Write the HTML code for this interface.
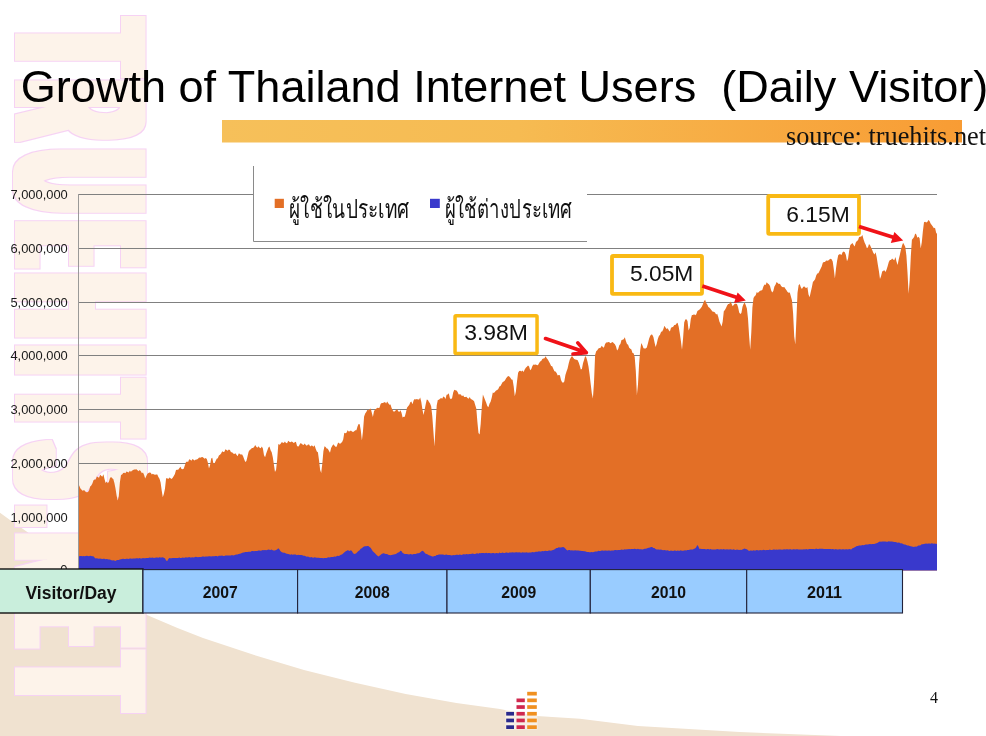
<!DOCTYPE html>
<html><head><meta charset="utf-8"><title>Growth of Thailand Internet Users</title>
<style>html,body{margin:0;padding:0;background:#fff;}body{width:986px;height:736px;position:relative;overflow:hidden;}</style></head>
<body>
<svg width="986" height="736" viewBox="0 0 986 736" style="position:absolute;left:0;top:0">
<defs><linearGradient id="bar" x1="0" x2="1" y1="0" y2="0"><stop offset="0" stop-color="#F6C05A"/><stop offset="0.4" stop-color="#F6BB52"/><stop offset="1" stop-color="#F89C34"/></linearGradient></defs>
<path d="M0,736 L0,512.8 L10,520 L147,615 L177.5,628 L203,638 L253.5,654.8 L304,670 L355,682.7 L405.7,693.9 L456.4,703 L500,709 L536.7,716 L580,718.7 L638,726 L739.6,732 L841,736 Z" fill="#F0E2D0"/>
<filter id="wm" filterUnits="userSpaceOnUse" x="0" y="0" width="170" height="736" color-interpolation-filters="sRGB"><feMorphology in="SourceAlpha" operator="dilate" radius="1.5 7.5" result="fat"/><feMorphology in="fat" operator="dilate" radius="1" result="fatter"/><feFlood flood-color="#F6D2F4"/><feComposite in2="fatter" operator="in" result="ol"/><feFlood flood-color="#FDF3EA"/><feComposite in2="fat" operator="in" result="fl"/><feMerge><feMergeNode in="ol"/><feMergeNode in="fl"/></feMerge></filter>
<g filter="url(#wm)"><text transform="translate(16.5,0) rotate(90)" y="0" font-family="Liberation Sans, sans-serif" font-weight="bold" font-size="184.6" fill="#FDF3EA"><tspan x="22.9" textLength="48.1" lengthAdjust="spacingAndGlyphs">T</tspan><tspan x="83.7" textLength="51.8" lengthAdjust="spacingAndGlyphs">R</tspan><tspan x="152.8" textLength="56.7" lengthAdjust="spacingAndGlyphs">U</tspan><tspan x="225.5" textLength="37.2" lengthAdjust="spacingAndGlyphs">E</tspan><tspan x="276.0" textLength="59.0" lengthAdjust="spacingAndGlyphs">H</tspan><tspan x="347.5" textLength="25.1" lengthAdjust="spacingAndGlyphs">I</tspan><tspan x="385.0" textLength="46.3" lengthAdjust="spacingAndGlyphs">T</tspan><tspan x="446.0" textLength="47.9" lengthAdjust="spacingAndGlyphs">S</tspan><tspan x="510.9" textLength="10.6" lengthAdjust="spacingAndGlyphs">.</tspan><tspan x="536.2" textLength="57.7" lengthAdjust="spacingAndGlyphs">N</tspan><tspan x="606.9" textLength="35.7" lengthAdjust="spacingAndGlyphs">E</tspan><tspan x="656.6" textLength="49.4" lengthAdjust="spacingAndGlyphs">T</tspan></text></g>
<rect x="222" y="120" width="740" height="22.5" fill="url(#bar)"/>
<line x1="79" y1="194.5" x2="937" y2="194.5" stroke="#808080" stroke-width="1"/>
<line x1="79" y1="248.5" x2="937" y2="248.5" stroke="#808080" stroke-width="1"/>
<line x1="79" y1="302.5" x2="937" y2="302.5" stroke="#808080" stroke-width="1"/>
<line x1="79" y1="355.5" x2="937" y2="355.5" stroke="#808080" stroke-width="1"/>
<line x1="79" y1="409.5" x2="937" y2="409.5" stroke="#808080" stroke-width="1"/>
<line x1="79" y1="463.5" x2="937" y2="463.5" stroke="#808080" stroke-width="1"/>
<line x1="79" y1="517.5" x2="937" y2="517.5" stroke="#808080" stroke-width="1"/>
<line x1="78.5" y1="194" x2="78.5" y2="570" stroke="#8e8e8e" stroke-width="0.9"/>
<path d="M79,570.5 L79,485.6 L79.2,485.6 L80.3,488.3 L81.4,489.4 L82.5,490.7 L83.6,490.2 L84.7,490.4 L85.8,492.0 L86.9,492.2 L88.0,492.1 L89.1,490.2 L90.2,486.5 L91.3,485.4 L92.4,483.6 L93.5,480.2 L94.6,479.4 L95.7,479.4 L96.8,476.6 L97.9,477.0 L99.0,477.8 L100.1,474.7 L101.2,475.8 L102.3,476.7 L103.4,474.2 L104.5,478.9 L105.6,482.9 L106.7,481.5 L107.8,483.2 L108.9,481.7 L110.0,478.0 L111.1,476.9 L112.2,478.3 L113.3,479.0 L114.4,483.1 L115.5,488.5 L116.6,495.5 L117.7,500.4 L118.8,496.0 L119.9,482.3 L121.0,475.0 L122.1,474.6 L123.2,473.0 L124.3,472.8 L125.4,473.3 L126.5,471.4 L127.6,471.9 L128.7,472.6 L129.8,470.7 L130.9,471.7 L132.0,470.8 L133.1,469.9 L134.2,469.5 L135.3,469.6 L136.4,469.3 L137.5,470.3 L138.6,471.3 L139.7,470.1 L140.8,471.3 L141.9,473.3 L143.0,472.4 L144.1,475.1 L145.2,478.6 L146.3,476.0 L147.4,473.8 L148.5,472.9 L149.6,472.4 L150.7,472.7 L151.8,474.6 L152.9,473.7 L154.0,474.4 L155.1,474.8 L156.2,474.6 L157.3,474.5 L158.4,477.1 L159.5,478.8 L160.6,482.4 L161.7,490.5 L162.8,497.2 L163.9,493.8 L165.0,488.6 L166.1,478.3 L167.2,478.3 L168.3,478.9 L169.4,477.4 L170.5,478.3 L171.6,479.1 L172.7,477.7 L173.8,476.0 L174.9,474.1 L176.0,470.0 L177.1,469.7 L178.2,469.8 L179.3,468.2 L180.4,466.8 L181.5,469.0 L182.6,469.2 L183.7,468.7 L184.8,465.5 L185.9,462.3 L187.0,461.4 L188.1,462.0 L189.2,459.3 L190.3,459.7 L191.4,460.8 L192.5,459.0 L193.6,459.8 L194.7,460.5 L195.8,459.4 L196.9,459.6 L198.0,458.7 L199.1,457.6 L200.2,457.8 L201.3,457.3 L202.4,456.9 L203.5,457.7 L204.6,458.8 L205.7,458.1 L206.8,459.1 L207.9,462.8 L209.0,468.6 L210.1,464.7 L211.2,458.6 L212.3,457.7 L213.4,463.4 L214.5,463.5 L215.6,461.0 L216.7,458.7 L217.8,458.2 L218.9,455.5 L220.0,454.7 L221.1,453.4 L222.2,451.3 L223.3,452.0 L224.4,451.8 L225.5,449.2 L226.6,449.9 L227.7,450.8 L228.8,449.6 L229.9,450.0 L231.0,452.3 L232.1,452.3 L233.2,453.5 L234.3,454.1 L235.4,453.2 L236.5,454.7 L237.6,456.3 L238.7,453.6 L239.8,453.8 L240.9,454.7 L242.0,454.3 L243.1,456.2 L244.2,459.3 L245.3,461.9 L246.4,460.9 L247.5,456.5 L248.6,451.8 L249.7,450.1 L250.8,449.2 L251.9,448.0 L253.0,448.1 L254.1,447.0 L255.2,444.9 L256.3,446.8 L257.4,447.8 L258.5,446.3 L259.6,447.7 L260.7,448.2 L261.8,446.4 L262.9,448.5 L264.0,455.2 L265.1,457.3 L266.2,453.5 L267.3,450.4 L268.4,447.6 L269.5,446.6 L270.6,450.3 L271.7,452.2 L272.8,457.2 L273.9,464.6 L275.0,472.1 L276.1,469.8 L277.2,459.6 L278.3,444.1 L279.4,444.8 L280.5,443.9 L281.6,442.3 L282.7,442.6 L283.8,443.1 L284.9,441.5 L286.0,442.9 L287.1,443.2 L288.2,440.8 L289.3,441.8 L290.4,442.3 L291.5,441.6 L292.6,442.0 L293.7,443.0 L294.8,442.2 L295.9,441.8 L297.0,445.7 L298.1,446.8 L299.2,445.5 L300.3,443.3 L301.4,443.4 L302.5,444.6 L303.6,444.9 L304.7,443.6 L305.8,444.9 L306.9,445.7 L308.0,444.6 L309.1,444.6 L310.2,446.5 L311.3,445.5 L312.4,445.7 L313.5,446.8 L314.6,445.2 L315.7,448.7 L316.8,451.4 L317.9,452.3 L319.0,460.0 L320.1,469.8 L321.2,472.9 L322.3,463.8 L323.4,451.2 L324.5,446.2 L325.6,447.1 L326.7,448.5 L327.8,448.8 L328.9,450.8 L330.0,452.8 L331.1,447.9 L332.2,445.9 L333.3,444.3 L334.4,445.4 L335.5,446.7 L336.6,446.7 L337.7,443.4 L338.8,442.4 L339.9,444.1 L341.0,443.0 L342.1,442.0 L343.2,439.5 L344.3,432.8 L345.4,433.2 L346.5,432.8 L347.6,430.3 L348.7,431.4 L349.8,431.2 L350.9,430.5 L352.0,431.4 L353.1,432.1 L354.2,431.2 L355.3,430.2 L356.4,430.2 L357.5,426.5 L358.6,423.9 L359.7,424.3 L360.8,430.6 L361.9,440.4 L363.0,431.1 L364.1,416.4 L365.2,413.4 L366.3,411.9 L367.4,409.7 L368.5,410.2 L369.6,409.2 L370.7,408.6 L371.8,412.7 L372.9,416.9 L374.0,411.2 L375.1,409.4 L376.2,408.8 L377.3,407.8 L378.4,407.9 L379.5,407.7 L380.6,404.1 L381.7,402.9 L382.8,402.9 L383.9,402.6 L385.0,402.1 L386.1,403.6 L387.2,401.5 L388.3,403.2 L389.4,404.7 L390.5,404.5 L391.6,408.1 L392.7,410.2 L393.8,411.8 L394.9,411.2 L396.0,409.9 L397.1,408.9 L398.2,411.2 L399.3,412.0 L400.4,410.2 L401.5,412.7 L402.6,417.4 L403.7,416.8 L404.8,416.8 L405.9,412.4 L407.0,407.8 L408.1,406.3 L409.2,405.1 L410.3,402.3 L411.4,401.5 L412.5,404.2 L413.6,400.4 L414.7,399.0 L415.8,399.4 L416.9,398.9 L418.0,399.5 L419.1,399.4 L420.2,397.5 L421.3,402.0 L422.4,409.2 L423.5,415.0 L424.6,410.1 L425.7,404.2 L426.8,399.5 L427.9,400.0 L429.0,402.0 L430.1,403.5 L431.2,406.4 L432.3,416.2 L433.4,431.6 L434.5,446.5 L435.6,424.6 L436.7,405.4 L437.8,399.9 L438.9,399.8 L440.0,398.8 L441.1,397.9 L442.2,398.8 L443.3,396.6 L444.4,396.9 L445.5,399.1 L446.6,394.8 L447.7,394.5 L448.8,393.2 L449.9,398.3 L451.0,399.2 L452.1,398.0 L453.2,392.4 L454.3,389.7 L455.4,390.2 L456.5,390.4 L457.6,392.1 L458.7,394.6 L459.8,394.3 L460.9,394.5 L462.0,396.2 L463.1,395.2 L464.2,397.0 L465.3,397.1 L466.4,396.8 L467.5,398.0 L468.6,398.7 L469.7,396.9 L470.8,399.0 L471.9,399.6 L473.0,400.2 L474.1,401.3 L475.2,405.1 L476.3,408.4 L477.4,422.0 L478.5,433.1 L479.6,434.5 L480.7,423.7 L481.8,406.7 L482.9,394.5 L484.0,397.2 L485.1,400.1 L486.2,402.8 L487.3,405.9 L488.4,407.3 L489.5,403.7 L490.6,401.8 L491.7,397.8 L492.8,392.4 L493.9,393.0 L495.0,391.8 L496.1,390.5 L497.2,389.9 L498.3,388.9 L499.4,386.5 L500.5,386.0 L501.6,383.9 L502.7,381.9 L503.8,381.6 L504.9,380.4 L506.0,378.5 L507.1,376.9 L508.2,375.9 L509.3,376.5 L510.4,377.8 L511.5,379.4 L512.6,379.7 L513.7,386.5 L514.8,396.3 L515.9,391.6 L517.0,381.4 L518.1,372.7 L519.2,371.0 L520.3,370.7 L521.4,371.4 L522.5,370.6 L523.6,372.0 L524.7,369.6 L525.8,367.7 L526.9,366.8 L528.0,365.6 L529.1,366.6 L530.2,370.2 L531.3,369.0 L532.4,365.9 L533.5,364.5 L534.6,364.8 L535.7,364.5 L536.8,365.0 L537.9,365.2 L539.0,363.3 L540.1,361.4 L541.2,361.1 L542.3,359.0 L543.4,358.6 L544.5,358.3 L545.6,356.2 L546.7,358.2 L547.8,359.5 L548.9,361.5 L550.0,363.4 L551.1,366.1 L552.2,366.2 L553.3,368.8 L554.4,371.2 L555.5,371.4 L556.6,373.1 L557.7,375.5 L558.8,375.0 L559.9,375.2 L561.0,380.0 L562.1,382.2 L563.2,382.8 L564.3,381.6 L565.4,375.0 L566.5,371.6 L567.6,368.5 L568.7,363.4 L569.8,359.6 L570.9,357.6 L572.0,356.0 L573.1,357.5 L574.2,359.1 L575.3,359.4 L576.4,359.7 L577.5,359.9 L578.6,362.3 L579.7,365.6 L580.8,369.6 L581.9,369.1 L583.0,363.3 L584.1,359.8 L585.2,356.1 L586.3,357.5 L587.4,361.3 L588.5,366.4 L589.6,374.6 L590.7,384.0 L591.8,393.3 L592.9,398.4 L594.0,382.5 L595.1,355.1 L596.2,351.2 L597.3,350.3 L598.4,348.6 L599.5,348.1 L600.6,347.7 L601.7,345.7 L602.8,346.9 L603.9,347.8 L605.0,344.3 L606.1,342.5 L607.2,342.5 L608.3,342.0 L609.4,342.3 L610.5,343.2 L611.6,342.5 L612.7,342.0 L613.8,343.3 L614.9,344.3 L616.0,346.6 L617.1,350.6 L618.2,348.9 L619.3,345.3 L620.4,344.0 L621.5,340.1 L622.6,339.8 L623.7,339.3 L624.8,337.2 L625.9,341.0 L627.0,344.1 L628.1,344.8 L629.2,347.7 L630.3,348.7 L631.4,349.6 L632.5,352.9 L633.6,353.3 L634.7,356.9 L635.8,370.8 L636.9,395.1 L638.0,384.3 L639.1,363.7 L640.2,350.3 L641.3,343.1 L642.4,345.2 L643.5,348.2 L644.6,348.4 L645.7,348.6 L646.8,347.4 L647.9,343.5 L649.0,338.9 L650.1,336.1 L651.2,334.4 L652.3,334.8 L653.4,337.1 L654.5,342.2 L655.6,347.1 L656.7,343.7 L657.8,339.1 L658.9,336.0 L660.0,334.7 L661.1,331.7 L662.2,331.4 L663.3,329.3 L664.4,325.8 L665.5,327.6 L666.6,328.9 L667.7,328.3 L668.8,330.3 L669.9,331.5 L671.0,327.7 L672.1,327.3 L673.2,326.8 L674.3,324.9 L675.4,324.9 L676.5,323.4 L677.6,322.8 L678.7,326.7 L679.8,333.6 L680.9,341.1 L682.0,349.8 L683.1,338.1 L684.2,322.5 L685.3,319.5 L686.4,319.3 L687.5,321.0 L688.6,330.6 L689.7,327.8 L690.8,318.9 L691.9,314.9 L693.0,315.0 L694.1,314.2 L695.2,315.3 L696.3,314.2 L697.4,310.9 L698.5,310.2 L699.6,309.5 L700.7,308.3 L701.8,306.7 L702.9,304.3 L704.0,301.3 L705.1,299.8 L706.2,303.0 L707.3,304.4 L708.4,306.9 L709.5,307.7 L710.6,309.0 L711.7,310.5 L712.8,311.8 L713.9,311.7 L715.0,312.5 L716.1,314.4 L717.2,313.8 L718.3,316.9 L719.4,321.6 L720.5,324.1 L721.6,326.4 L722.7,321.5 L723.8,311.2 L724.9,309.9 L726.0,307.9 L727.1,305.6 L728.2,304.1 L729.3,303.9 L730.4,301.6 L731.5,303.4 L732.6,306.2 L733.7,305.0 L734.8,303.7 L735.9,303.7 L737.0,304.1 L738.1,307.2 L739.2,312.5 L740.3,314.0 L741.4,313.1 L742.5,306.8 L743.6,303.9 L744.7,302.6 L745.8,305.2 L746.9,308.5 L748.0,318.4 L749.1,335.7 L750.2,349.7 L751.3,332.5 L752.4,307.6 L753.5,298.0 L754.6,296.3 L755.7,295.2 L756.8,291.9 L757.9,292.9 L759.0,291.7 L760.1,290.7 L761.2,290.5 L762.3,289.9 L763.4,286.4 L764.5,284.5 L765.6,285.0 L766.7,282.2 L767.8,283.5 L768.9,284.3 L770.0,285.9 L771.1,290.3 L772.2,292.4 L773.3,291.1 L774.4,286.4 L775.5,284.7 L776.6,282.1 L777.7,282.9 L778.8,283.9 L779.9,283.8 L781.0,285.8 L782.1,287.0 L783.2,287.2 L784.3,287.1 L785.4,288.7 L786.5,290.3 L787.6,292.0 L788.7,292.7 L789.8,292.6 L790.9,296.5 L792.0,300.5 L793.1,313.2 L794.2,336.2 L795.3,344.4 L796.4,319.6 L797.5,293.0 L798.6,285.2 L799.7,284.0 L800.8,287.2 L801.9,288.9 L803.0,287.2 L804.1,286.3 L805.2,287.5 L806.3,288.1 L807.4,287.1 L808.5,294.5 L809.6,297.3 L810.7,292.2 L811.8,287.6 L812.9,281.9 L814.0,280.8 L815.1,279.2 L816.2,275.4 L817.3,273.5 L818.4,273.3 L819.5,271.0 L820.6,268.7 L821.7,266.6 L822.8,262.8 L823.9,262.1 L825.0,261.9 L826.1,260.6 L827.2,260.8 L828.3,260.5 L829.4,259.4 L830.5,258.8 L831.6,259.3 L832.7,261.6 L833.8,269.2 L834.9,278.5 L836.0,268.6 L837.1,260.8 L838.2,255.3 L839.3,254.3 L840.4,254.2 L841.5,254.9 L842.6,252.2 L843.7,251.6 L844.8,252.3 L845.9,254.9 L847.0,261.2 L848.1,258.5 L849.2,250.4 L850.3,244.9 L851.4,244.0 L852.5,243.0 L853.6,244.9 L854.7,246.6 L855.8,242.6 L856.9,240.9 L858.0,240.2 L859.1,236.9 L860.2,236.7 L861.3,236.5 L862.4,235.1 L863.5,239.2 L864.6,242.6 L865.7,244.8 L866.8,247.9 L867.9,247.6 L869.0,244.0 L870.1,245.3 L871.2,247.7 L872.3,250.3 L873.4,253.1 L874.5,254.4 L875.6,252.2 L876.7,257.2 L877.8,264.4 L878.9,271.0 L880.0,278.9 L881.1,276.1 L882.2,271.4 L883.3,270.7 L884.4,270.2 L885.5,271.9 L886.6,269.6 L887.7,266.1 L888.8,262.0 L889.9,260.1 L891.0,260.1 L892.1,258.6 L893.2,259.5 L894.3,260.3 L895.4,257.1 L896.5,261.6 L897.6,265.1 L898.7,259.5 L899.8,254.9 L900.9,250.0 L902.0,245.8 L903.1,242.8 L904.2,244.7 L905.3,246.9 L906.4,255.6 L907.5,272.6 L908.6,293.7 L909.7,280.1 L910.8,256.4 L911.9,239.8 L913.0,238.4 L914.1,237.0 L915.2,233.6 L916.3,234.6 L917.4,237.8 L918.5,236.7 L919.6,238.2 L920.7,248.5 L921.8,242.3 L922.9,230.9 L924.0,222.3 L925.1,221.8 L926.2,222.6 L927.3,222.0 L928.4,219.9 L929.5,221.1 L930.6,223.4 L931.7,224.9 L932.8,226.6 L933.9,228.2 L935.0,227.7 L936.1,232.5 L936.5,233.4 L937,233.4 L937,570.5 Z" fill="#E36F26"/>
<path d="M79,570.5 L79,556.3 L79.1,556.3 L80.2,556.0 L81.3,556.0 L82.4,556.3 L83.5,556.1 L84.6,556.3 L85.7,556.1 L86.8,555.8 L87.9,555.9 L89.0,556.2 L90.1,555.7 L91.2,556.1 L92.3,556.3 L93.4,556.3 L94.5,557.5 L95.6,558.5 L96.7,558.2 L97.8,558.6 L98.9,558.7 L100.0,558.5 L101.1,558.7 L102.2,559.1 L103.3,558.7 L104.4,558.8 L105.5,559.2 L106.6,559.1 L107.7,559.2 L108.8,559.6 L109.9,559.5 L111.0,560.1 L112.1,560.4 L113.2,560.2 L114.3,560.6 L115.4,561.0 L116.5,560.3 L117.6,560.0 L118.7,560.1 L119.8,559.5 L120.9,559.3 L122.0,559.1 L123.1,558.8 L124.2,559.0 L125.3,559.0 L126.4,558.7 L127.5,558.8 L128.6,559.1 L129.7,558.6 L130.8,558.6 L131.9,558.7 L133.0,558.4 L134.1,558.5 L135.2,558.6 L136.3,558.3 L137.4,558.3 L138.5,558.6 L139.6,558.1 L140.7,558.4 L141.8,558.5 L142.9,558.1 L144.0,558.2 L145.1,558.2 L146.2,557.9 L147.3,557.9 L148.4,558.1 L149.5,557.6 L150.6,557.8 L151.7,557.8 L152.8,557.5 L153.9,557.9 L155.0,557.7 L156.1,557.5 L157.2,557.6 L158.3,557.7 L159.4,557.2 L160.5,557.4 L161.6,557.4 L162.7,557.3 L163.8,557.8 L164.9,558.2 L166.0,560.3 L167.1,561.2 L168.2,559.2 L169.3,557.9 L170.4,558.3 L171.5,558.3 L172.6,557.9 L173.7,558.1 L174.8,558.0 L175.9,557.9 L177.0,558.0 L178.1,558.1 L179.2,557.6 L180.3,557.9 L181.4,558.0 L182.5,557.6 L183.6,557.8 L184.7,557.8 L185.8,557.3 L186.9,557.5 L188.0,557.5 L189.1,557.1 L190.2,557.5 L191.3,557.6 L192.4,557.3 L193.5,557.4 L194.6,557.3 L195.7,556.8 L196.8,557.0 L197.9,557.3 L199.0,556.9 L200.1,556.9 L201.2,557.0 L202.3,556.5 L203.4,556.6 L204.5,556.7 L205.6,556.6 L206.7,556.6 L207.8,556.5 L208.9,556.3 L210.0,556.2 L211.1,556.4 L212.2,556.2 L213.3,556.3 L214.4,556.3 L215.5,555.9 L216.6,556.1 L217.7,556.4 L218.8,555.8 L219.9,555.7 L221.0,555.8 L222.1,555.5 L223.2,555.9 L224.3,555.9 L225.4,555.6 L226.5,555.5 L227.6,555.6 L228.7,555.4 L229.8,555.6 L230.9,555.5 L232.0,555.0 L233.1,555.4 L234.2,555.3 L235.3,554.8 L236.4,554.4 L237.5,554.5 L238.6,553.9 L239.7,553.7 L240.8,553.4 L241.9,552.9 L243.0,552.5 L244.1,552.4 L245.2,551.9 L246.3,552.1 L247.4,551.9 L248.5,551.7 L249.6,551.7 L250.7,551.8 L251.8,551.1 L252.9,551.1 L254.0,551.2 L255.1,551.0 L256.2,551.1 L257.3,551.0 L258.4,550.5 L259.5,550.4 L260.6,550.8 L261.7,550.4 L262.8,550.1 L263.9,550.3 L265.0,550.1 L266.1,550.2 L267.2,550.1 L268.3,549.6 L269.4,549.8 L270.5,549.9 L271.6,549.5 L272.7,550.2 L273.8,550.5 L274.9,550.5 L276.0,550.0 L277.1,549.6 L278.2,548.3 L279.3,549.3 L280.4,551.1 L281.5,552.0 L282.6,552.6 L283.7,552.7 L284.8,552.7 L285.9,553.5 L287.0,553.8 L288.1,553.9 L289.2,554.2 L290.3,554.8 L291.4,554.3 L292.5,554.7 L293.6,554.6 L294.7,554.5 L295.8,554.6 L296.9,555.2 L298.0,554.8 L299.1,554.9 L300.2,555.1 L301.3,555.1 L302.4,555.3 L303.5,555.8 L304.6,555.8 L305.7,556.2 L306.8,556.7 L307.9,556.6 L309.0,557.0 L310.1,557.5 L311.2,557.1 L312.3,557.4 L313.4,557.8 L314.5,557.3 L315.6,557.6 L316.7,557.8 L317.8,557.7 L318.9,557.7 L320.0,558.0 L321.1,557.9 L322.2,558.0 L323.3,558.3 L324.4,557.9 L325.5,557.9 L326.6,557.9 L327.7,557.4 L328.8,557.2 L329.9,557.4 L331.0,556.9 L332.1,557.1 L333.2,556.9 L334.3,556.5 L335.4,556.7 L336.5,556.3 L337.6,555.8 L338.7,555.9 L339.8,555.5 L340.9,554.8 L342.0,554.4 L343.1,553.6 L344.2,552.5 L345.3,551.6 L346.4,551.0 L347.5,550.2 L348.6,550.5 L349.7,550.9 L350.8,550.3 L351.9,551.1 L353.0,552.9 L354.1,553.9 L355.2,553.8 L356.3,553.2 L357.4,552.1 L358.5,551.1 L359.6,550.3 L360.7,548.7 L361.8,548.3 L362.9,547.3 L364.0,546.5 L365.1,546.2 L366.2,546.2 L367.3,546.0 L368.4,546.1 L369.5,546.9 L370.6,547.7 L371.7,549.5 L372.8,551.2 L373.9,552.3 L375.0,553.3 L376.1,554.6 L377.2,555.6 L378.3,556.6 L379.4,555.8 L380.5,554.9 L381.6,554.0 L382.7,553.4 L383.8,553.2 L384.9,553.7 L386.0,554.1 L387.1,554.0 L388.2,554.8 L389.3,555.1 L390.4,555.2 L391.5,555.1 L392.6,554.7 L393.7,554.4 L394.8,554.3 L395.9,554.0 L397.0,553.2 L398.1,552.5 L399.2,552.2 L400.3,550.8 L401.4,551.1 L402.5,552.7 L403.6,553.4 L404.7,553.9 L405.8,554.0 L406.9,553.9 L408.0,554.2 L409.1,554.5 L410.2,553.9 L411.3,554.3 L412.4,554.4 L413.5,553.9 L414.6,553.9 L415.7,553.9 L416.8,553.5 L417.9,553.3 L419.0,553.3 L420.1,552.4 L421.2,551.4 L422.3,550.8 L423.4,551.3 L424.5,552.6 L425.6,553.7 L426.7,553.9 L427.8,554.5 L428.9,555.3 L430.0,555.4 L431.1,556.1 L432.2,556.5 L433.3,556.6 L434.4,556.1 L435.5,556.0 L436.6,555.1 L437.7,554.9 L438.8,554.5 L439.9,554.4 L441.0,554.6 L442.1,554.5 L443.2,554.5 L444.3,554.9 L445.4,554.7 L446.5,554.6 L447.6,555.0 L448.7,555.0 L449.8,555.0 L450.9,555.2 L452.0,555.4 L453.1,555.0 L454.2,555.2 L455.3,555.1 L456.4,554.8 L457.5,554.7 L458.6,555.0 L459.7,554.5 L460.8,554.8 L461.9,554.9 L463.0,554.2 L464.1,554.3 L465.2,554.4 L466.3,554.0 L467.4,554.3 L468.5,554.3 L469.6,553.9 L470.7,554.0 L471.8,553.8 L472.9,553.6 L474.0,553.9 L475.1,553.9 L476.2,553.4 L477.3,553.3 L478.4,553.7 L479.5,553.1 L480.6,553.2 L481.7,553.1 L482.8,552.9 L483.9,553.0 L485.0,553.2 L486.1,552.7 L487.2,553.2 L488.3,553.1 L489.4,553.0 L490.5,553.2 L491.6,553.3 L492.7,552.9 L493.8,553.0 L494.9,553.4 L496.0,552.9 L497.1,553.0 L498.2,553.4 L499.3,552.6 L500.4,553.1 L501.5,553.0 L502.6,552.6 L503.7,553.0 L504.8,552.9 L505.9,552.6 L507.0,552.6 L508.1,552.9 L509.2,552.5 L510.3,552.5 L511.4,552.4 L512.5,552.2 L513.6,552.4 L514.7,552.5 L515.8,552.3 L516.9,552.3 L518.0,552.6 L519.1,552.2 L520.2,552.5 L521.3,552.7 L522.4,552.3 L523.5,552.4 L524.6,552.5 L525.7,552.4 L526.8,552.3 L527.9,552.7 L529.0,552.4 L530.1,552.6 L531.2,552.5 L532.3,552.0 L533.4,552.2 L534.5,552.2 L535.6,551.7 L536.7,551.7 L537.8,551.8 L538.9,551.2 L540.0,551.4 L541.1,551.4 L542.2,551.1 L543.3,551.3 L544.4,551.1 L545.5,550.7 L546.6,551.0 L547.7,551.0 L548.8,550.6 L549.9,550.5 L551.0,550.7 L552.1,550.3 L553.2,549.9 L554.3,549.6 L555.4,548.8 L556.5,548.1 L557.6,547.9 L558.7,547.3 L559.8,547.4 L560.9,547.4 L562.0,547.2 L563.1,547.1 L564.2,547.4 L565.3,548.4 L566.4,549.7 L567.5,550.4 L568.6,549.9 L569.7,549.9 L570.8,550.5 L571.9,550.3 L573.0,550.4 L574.1,550.5 L575.2,550.2 L576.3,550.6 L577.4,550.5 L578.5,550.5 L579.6,550.7 L580.7,550.8 L581.8,551.0 L582.9,551.1 L584.0,551.3 L585.1,551.2 L586.2,551.8 L587.3,551.9 L588.4,551.9 L589.5,552.3 L590.6,552.3 L591.7,552.1 L592.8,552.2 L593.9,552.0 L595.0,551.6 L596.1,551.4 L597.2,551.4 L598.3,550.7 L599.4,550.9 L600.5,550.9 L601.6,550.5 L602.7,550.5 L603.8,550.7 L604.9,550.5 L606.0,550.5 L607.1,550.8 L608.2,550.4 L609.3,550.5 L610.4,550.7 L611.5,550.6 L612.6,550.5 L613.7,550.5 L614.8,550.1 L615.9,550.1 L617.0,550.3 L618.1,550.0 L619.2,550.1 L620.3,550.0 L621.4,549.5 L622.5,549.8 L623.6,549.7 L624.7,549.3 L625.8,549.4 L626.9,549.3 L628.0,549.2 L629.1,549.0 L630.2,549.2 L631.3,549.0 L632.4,548.9 L633.5,548.9 L634.6,548.8 L635.7,549.1 L636.8,549.2 L637.9,548.7 L639.0,549.3 L640.1,549.2 L641.2,549.2 L642.3,549.5 L643.4,549.3 L644.5,548.8 L645.6,548.8 L646.7,548.4 L647.8,547.9 L648.9,547.7 L650.0,547.6 L651.1,546.9 L652.2,547.0 L653.3,547.9 L654.4,548.1 L655.5,548.9 L656.6,549.6 L657.7,549.4 L658.8,549.4 L659.9,549.8 L661.0,549.4 L662.1,549.9 L663.2,550.3 L664.3,550.0 L665.4,550.2 L666.5,550.5 L667.6,550.3 L668.7,550.8 L669.8,551.0 L670.9,550.5 L672.0,550.8 L673.1,550.9 L674.2,550.4 L675.3,550.6 L676.4,550.9 L677.5,550.5 L678.6,550.7 L679.7,550.8 L680.8,550.3 L681.9,550.8 L683.0,550.7 L684.1,550.6 L685.2,550.2 L686.3,550.6 L687.4,549.9 L688.5,550.1 L689.6,549.8 L690.7,549.5 L691.8,549.4 L692.9,549.5 L694.0,548.7 L695.1,548.4 L696.2,547.3 L697.3,544.9 L698.4,546.5 L699.5,549.0 L700.6,548.8 L701.7,549.0 L702.8,549.1 L703.9,549.0 L705.0,549.0 L706.1,549.5 L707.2,549.0 L708.3,549.1 L709.4,549.6 L710.5,549.1 L711.6,549.5 L712.7,549.6 L713.8,549.4 L714.9,549.5 L716.0,549.5 L717.1,549.1 L718.2,549.3 L719.3,549.4 L720.4,549.3 L721.5,549.2 L722.6,549.4 L723.7,549.1 L724.8,549.4 L725.9,549.6 L727.0,549.2 L728.1,549.4 L729.2,549.4 L730.3,549.2 L731.4,549.4 L732.5,549.8 L733.6,549.3 L734.7,549.7 L735.8,550.0 L736.9,549.6 L738.0,549.7 L739.1,550.0 L740.2,549.7 L741.3,549.9 L742.4,549.5 L743.5,548.9 L744.6,548.5 L745.7,549.0 L746.8,549.3 L747.9,549.9 L749.0,550.9 L750.1,550.4 L751.2,550.4 L752.3,550.7 L753.4,550.2 L754.5,550.5 L755.6,550.6 L756.7,550.1 L757.8,550.3 L758.9,550.5 L760.0,550.1 L761.1,550.2 L762.2,550.2 L763.3,549.8 L764.4,550.1 L765.5,550.2 L766.6,549.9 L767.7,550.0 L768.8,550.0 L769.9,549.5 L771.0,549.9 L772.1,549.9 L773.2,549.6 L774.3,549.6 L775.4,549.7 L776.5,549.4 L777.6,549.7 L778.7,549.6 L779.8,549.5 L780.9,549.6 L782.0,549.7 L783.1,549.4 L784.2,549.3 L785.3,549.4 L786.4,549.2 L787.5,549.3 L788.6,549.5 L789.7,549.3 L790.8,549.3 L791.9,549.7 L793.0,549.2 L794.1,549.3 L795.2,549.6 L796.3,549.2 L797.4,549.3 L798.5,549.6 L799.6,549.4 L800.7,549.5 L801.8,549.5 L802.9,549.4 L804.0,549.2 L805.1,549.4 L806.2,549.1 L807.3,549.4 L808.4,549.2 L809.5,549.1 L810.6,549.1 L811.7,549.1 L812.8,548.9 L813.9,549.1 L815.0,549.3 L816.1,548.6 L817.2,549.0 L818.3,549.0 L819.4,548.8 L820.5,548.8 L821.6,548.8 L822.7,548.8 L823.8,548.9 L824.9,549.1 L826.0,548.9 L827.1,549.0 L828.2,549.0 L829.3,549.1 L830.4,549.0 L831.5,549.2 L832.6,548.9 L833.7,549.3 L834.8,549.6 L835.9,549.1 L837.0,549.5 L838.1,549.5 L839.2,549.2 L840.3,549.3 L841.4,549.5 L842.5,549.3 L843.6,549.3 L844.7,549.4 L845.8,549.3 L846.9,549.3 L848.0,549.5 L849.1,549.1 L850.2,549.2 L851.3,549.4 L852.4,548.3 L853.5,548.1 L854.6,547.3 L855.7,546.7 L856.8,546.0 L857.9,546.0 L859.0,545.4 L860.1,545.5 L861.2,545.5 L862.3,544.9 L863.4,545.2 L864.5,545.0 L865.6,544.6 L866.7,544.6 L867.8,544.5 L868.9,544.2 L870.0,544.1 L871.1,544.3 L872.2,544.0 L873.3,544.0 L874.4,543.9 L875.5,543.4 L876.6,543.2 L877.7,542.8 L878.8,541.9 L879.9,541.4 L881.0,541.8 L882.1,541.4 L883.2,541.4 L884.3,541.5 L885.4,541.4 L886.5,541.7 L887.6,541.7 L888.7,541.3 L889.8,541.6 L890.9,541.6 L892.0,541.6 L893.1,541.8 L894.2,542.0 L895.3,542.0 L896.4,542.3 L897.5,542.8 L898.6,542.5 L899.7,542.7 L900.8,543.4 L901.9,543.3 L903.0,544.0 L904.1,544.5 L905.2,544.5 L906.3,544.9 L907.4,545.6 L908.5,545.6 L909.6,546.1 L910.7,546.2 L911.8,546.4 L912.9,546.8 L914.0,547.1 L915.1,546.6 L916.2,546.7 L917.3,546.3 L918.4,545.5 L919.5,545.4 L920.6,545.3 L921.7,544.3 L922.8,544.3 L923.9,544.1 L925.0,543.8 L926.1,543.5 L927.2,543.8 L928.3,543.5 L929.4,543.5 L930.5,543.7 L931.6,543.2 L932.7,543.5 L933.8,543.8 L934.9,543.4 L936.0,544.0 L936.6,543.7 L937,543.7 L937,570.5 Z" fill="#3939CC"/>
<g font-family="Liberation Sans, sans-serif" font-size="12.9" fill="#1a1a1a" text-anchor="end">
<text x="67.8" y="199.4">7,000,000</text>
<text x="67.8" y="253.4">6,000,000</text>
<text x="67.8" y="307.4">5,000,000</text>
<text x="67.8" y="360.4">4,000,000</text>
<text x="67.8" y="414.4">3,000,000</text>
<text x="67.8" y="468.4">2,000,000</text>
<text x="67.8" y="522.4">1,000,000</text>
<text x="67.5" y="574">0</text>
</g>
<rect x="254" y="166" width="333" height="75.5" fill="#fff"/>
<path d="M253.5,166 V241.5 H587" fill="none" stroke="#8a8a8a" stroke-width="1"/>
<rect x="274.7" y="198.8" width="9.2" height="9.2" fill="#E36F26"/>
<rect x="430" y="198.8" width="9.8" height="9.2" fill="#3939CC"/>
<g font-family="Liberation Serif, serif" font-size="26" fill="#111">
<text x="289.3" y="218" textLength="120.5" lengthAdjust="spacingAndGlyphs">ผู้ใช้ในประเทศ</text>
<text x="444.5" y="218" textLength="127.7" lengthAdjust="spacingAndGlyphs">ผู้ใช้ต่างประเทศ</text>
</g>
<rect x="455.05" y="315.85" width="81.99999999999994" height="37.599999999999966" rx="1" fill="#fff" stroke="#F9B914" stroke-width="3.5"/>
<text x="464.2" y="339.8" textLength="63.79999999999997" lengthAdjust="spacingAndGlyphs" font-family="Liberation Sans, sans-serif" font-size="22.3" fill="#111">3.98M</text>
<rect x="612.0" y="256.0" width="89.99999999999996" height="37.8" rx="1" fill="#fff" stroke="#F9B914" stroke-width="3.8"/>
<text x="630.0" y="280.7" textLength="63.300000000000026" lengthAdjust="spacingAndGlyphs" font-family="Liberation Sans, sans-serif" font-size="22.3" fill="#111">5.05M</text>
<rect x="768.1999999999999" y="196.0" width="90.80000000000003" height="37.8" rx="1" fill="#fff" stroke="#F9B914" stroke-width="3.8"/>
<text x="786.3" y="221.5" textLength="63.50000000000007" lengthAdjust="spacingAndGlyphs" font-family="Liberation Sans, sans-serif" font-size="22.3" fill="#111">6.15M</text>
<g stroke="#F01218" stroke-width="3.7" stroke-linecap="round" stroke-linejoin="round" fill="none"><path d="M545.5,338.6 L586.3,352.6 M577.8,342.9 L586.3,352.6 L573,354"/></g>
<g stroke="#F01218" stroke-width="3.7" fill="#F01218"><line x1="702.3" y1="286.1" x2="737" y2="297.6"/><path d="M745.8,300.6 L737.6,292.4 L734.0,302.9 Z" stroke="none"/></g>
<g stroke="#F01218" stroke-width="3.7" fill="#F01218"><line x1="859" y1="226.5" x2="894" y2="237.6"/><path d="M903.2,240.5 L894.4,232.0 L890.8,243.0 Z" stroke="none"/></g>
<rect x="-1" y="569" width="144" height="44" fill="#C9EEDC" stroke="#111" stroke-width="1.4"/>
<rect x="143" y="569.6" width="154.60000000000002" height="43.4" fill="#99CCFF" stroke="#22223a" stroke-width="1.1"/>
<rect x="297.6" y="569.6" width="149.39999999999998" height="43.4" fill="#99CCFF" stroke="#22223a" stroke-width="1.1"/>
<rect x="447" y="569.6" width="143.29999999999995" height="43.4" fill="#99CCFF" stroke="#22223a" stroke-width="1.1"/>
<rect x="590.3" y="569.6" width="156.4000000000001" height="43.4" fill="#99CCFF" stroke="#22223a" stroke-width="1.1"/>
<rect x="746.7" y="569.6" width="155.79999999999995" height="43.4" fill="#99CCFF" stroke="#22223a" stroke-width="1.1"/>
<g font-family="Liberation Sans, sans-serif" font-weight="bold" fill="#111" text-anchor="middle">
<text x="71" y="599" font-size="17.5">Visitor/Day</text>
<text x="220.3" y="598.3" font-size="16.6" textLength="35" lengthAdjust="spacingAndGlyphs">2007</text>
<text x="372.3" y="598.3" font-size="16.6" textLength="35" lengthAdjust="spacingAndGlyphs">2008</text>
<text x="518.65" y="598.3" font-size="16.6" textLength="35" lengthAdjust="spacingAndGlyphs">2009</text>
<text x="668.5" y="598.3" font-size="16.6" textLength="35" lengthAdjust="spacingAndGlyphs">2010</text>
<text x="824.6" y="598.3" font-size="16.6" textLength="35" lengthAdjust="spacingAndGlyphs">2011</text>
</g>
<text x="20.8" y="102" font-family="Liberation Sans, sans-serif" font-size="44.8" fill="#000" xml:space="preserve" textLength="967.5" lengthAdjust="spacingAndGlyphs">Growth of Thailand Internet Users  (Daily Visitor)</text>
<text x="786" y="145.2" font-family="Liberation Serif, serif" font-size="26.3" fill="#111" textLength="200" lengthAdjust="spacingAndGlyphs">source: truehits.net</text>
<rect x="505.5" y="710" width="32" height="19.5" fill="#fff" opacity="0.45"/>
<rect x="506.2" y="725.3" width="7.8" height="3.7" fill="#2A2A8C"/>
<rect x="506.2" y="718.6" width="7.8" height="3.7" fill="#2A2A8C"/>
<rect x="506.2" y="711.9" width="7.8" height="3.7" fill="#2A2A8C"/>
<rect x="516.5" y="725.3" width="8.3" height="3.7" fill="#D0284E"/>
<rect x="516.5" y="718.6" width="8.3" height="3.7" fill="#D0284E"/>
<rect x="516.5" y="711.9" width="8.3" height="3.7" fill="#D0284E"/>
<rect x="516.5" y="705.2" width="8.3" height="3.7" fill="#D0284E"/>
<rect x="516.5" y="698.5" width="8.3" height="3.7" fill="#D0284E"/>
<rect x="527.2" y="725.3" width="9.6" height="3.7" fill="#F09020"/>
<rect x="527.2" y="718.6" width="9.6" height="3.7" fill="#F09020"/>
<rect x="527.2" y="711.9" width="9.6" height="3.7" fill="#F09020"/>
<rect x="527.2" y="705.2" width="9.6" height="3.7" fill="#F09020"/>
<rect x="527.2" y="698.5" width="9.6" height="3.7" fill="#F09020"/>
<rect x="527.2" y="691.8" width="9.6" height="3.7" fill="#F09020"/>
<text x="930" y="703" font-family="Liberation Serif, serif" font-size="16" fill="#111">4</text>
</svg>
</body></html>
